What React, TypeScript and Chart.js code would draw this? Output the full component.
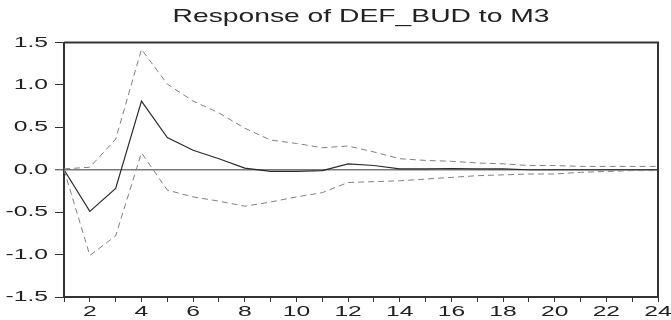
import React, { useEffect, useRef } from "react";
import { Chart, registerables } from "chart.js";

Chart.register(...registerables);

const titleText = "Response of DEF_BUD to M3";
const periods = ["1","2","3","4","5","6","7","8","9","10","11","12","13","14","15","16","17","18","19","20","21","22","23","24"];
const response = [0.00, -0.49, -0.22, 0.81, 0.38, 0.23, 0.13, 0.02, -0.02, -0.02, -0.01, 0.07, 0.05, 0.01, 0.01, 0.015, 0.01, 0.01, 0.00, 0.00, 0.00, 0.00, 0.00, 0.00];
const upperBand = [0.01, 0.03, 0.36, 1.42, 1.01, 0.81, 0.67, 0.49, 0.35, 0.31, 0.26, 0.28, 0.21, 0.13, 0.11, 0.10, 0.08, 0.07, 0.05, 0.05, 0.04, 0.04, 0.04, 0.04];
const lowerBand = [0.00, -1.01, -0.78, 0.20, -0.24, -0.32, -0.37, -0.43, -0.38, -0.32, -0.27, -0.15, -0.14, -0.13, -0.11, -0.09, -0.07, -0.06, -0.05, -0.05, -0.03, -0.02, -0.01, -0.01];
const xLabelEvery = 2;
const yMin = -1.5;
const yMax = 1.5;
const yStep = 0.5;

const FONT = "'Liberation Sans', Arial, Helvetica, sans-serif";

export default function App() {
  const ref = useRef<HTMLCanvasElement | null>(null);

  useEffect(() => {
    document.body.style.margin = "0";
    const canvas = ref.current!;
    const stretchPlugin = {
      id: "stretchText",
      beforeInit(chart: any) {
        const ctx = chart.ctx as CanvasRenderingContext2D;
        const orig = ctx.fillText.bind(ctx);
        (ctx as any).fillText = (text: string, x: number, y: number) => {
          const m = /([\d.]+)px/.exec(ctx.font);
          const size = m ? parseFloat(m[1]) : 12;
          const sx = size > 16 ? 1.52 : 1.7;
          ctx.save();
          ctx.translate(x, y);
          ctx.scale(sx, 1);
          orig(text, 0, 0);
          ctx.restore();
        };
      },
    };
    const framePlugin = {
      id: "frame",
      afterDatasetsDraw(chart: any) {
        const { ctx, chartArea } = chart;
        ctx.save();
        ctx.strokeStyle = "#333";
        ctx.lineWidth = 2;
        ctx.beginPath();
        ctx.moveTo(chartArea.left, chartArea.top);
        ctx.lineTo(chartArea.right, chartArea.top);
        ctx.lineTo(chartArea.right, chartArea.bottom);
        ctx.stroke();
        ctx.restore();
      },
    };

    const chart = new Chart(canvas, {
      type: "line",
      data: {
        labels: periods,
        datasets: [
          {
            label: "upper",
            data: upperBand,
            borderColor: "#808080",
            borderWidth: 1,
            borderDash: [6, 4],
            pointRadius: 0,
            tension: 0,
          },
          {
            label: "lower",
            data: lowerBand,
            borderColor: "#808080",
            borderWidth: 1,
            borderDash: [6, 4],
            pointRadius: 0,
            tension: 0,
          },
          {
            label: "response",
            data: response,
            borderColor: "#2a2a2a",
            borderWidth: 1.2,
            pointRadius: 0,
            tension: 0,
          },
        ],
      },
      options: {
        responsive: false,
        animation: false,
        devicePixelRatio: 1,
        layout: { padding: { top: 0, right: 13, bottom: 0, left: 0 } },
        plugins: {
          legend: { display: false },
          tooltip: { enabled: false },
          title: {
            display: true,
            text: titleText,
            fullSize: false,
            color: "#222",
            font: { family: FONT, size: 18.6, weight: "normal", lineHeight: 1.2 },
            padding: { top: 5.7, bottom: 14.5 },
          },
        },
        scales: {
          x: {
            type: "category",
            offset: false,
            border: { display: true, color: "#333", width: 2 },
            grid: {
              display: true,
              drawOnChartArea: false,
              drawTicks: true,
              tickLength: 5,
              tickColor: "#333",
              tickWidth: 1,
            },
            ticks: {
              autoSkip: false,
              maxRotation: 0,
              padding: 1,
              color: "#222",
              font: { family: FONT, size: 14.5 },
              callback: (_v: any, i: number) =>
                Number(periods[i]) % xLabelEvery === 0 ? periods[i] : "",
            },
            afterFit: (s: any) => {
              s.height = 23;
            },
          },
          y: {
            min: yMin,
            max: yMax,
            border: { display: true, color: "#333", width: 2 },
            grid: {
              drawOnChartArea: true,
              drawTicks: true,
              tickLength: 9,
              tickColor: "#333",
              tickWidth: 1,
              color: (c: any) => (c.tick && c.tick.value === 0 ? "#7a7a7a" : "rgba(0,0,0,0)"),
              lineWidth: (c: any) => (c.tick && c.tick.value === 0 ? 1.6 : 1),
            },
            ticks: {
              stepSize: yStep,
              padding: 7,
              color: "#222",
              font: { family: FONT, size: 14.5 },
              callback: (v: any) => Number(v).toFixed(1),
            },
            afterFit: (s: any) => {
              s.width = 64;
            },
          },
        },
      },
      plugins: [stretchPlugin, framePlugin],
    } as any);

    return () => chart.destroy();
  }, []);

  return (
    <div style={{ width: 671, height: 320 }}>
      <canvas ref={ref} width={671} height={320} style={{ display: "block" }} />
    </div>
  );
}
